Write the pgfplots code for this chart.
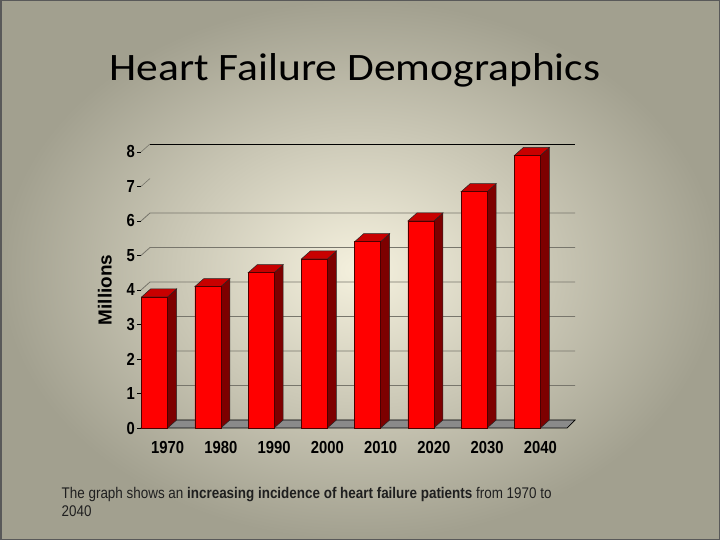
\documentclass[border=0pt]{standalone}
\usepackage{fontspec}
\setmainfont{Liberation Sans}
\newfontfamily\titlefont[FakeStretch=1.12]{Carlito}
\newfontfamily\tickfont[FakeStretch=0.85]{Liberation Sans}
\newfontfamily\capfont[FakeStretch=0.87]{Liberation Sans}
\usepackage{pgfplots}
\usepackage{pgfplotstable}
\pgfplotsset{compat=1.18}
\definecolor{bgin}{RGB}{245,241,222}
\definecolor{bgout}{RGB}{162,160,143}
\definecolor{front}{RGB}{255,0,0}
\definecolor{side}{RGB}{125,0,0}
\definecolor{topred}{RGB}{200,0,0}
\definecolor{floor}{RGB}{138,138,138}
\definecolor{gridc}{RGB}{120,118,108}

% values in millions, 1970..2040
\pgfplotstableread{
x y
0 3.8
1 4.1
2 4.5
3 4.9
4 5.4
5 6.0
6 6.85
7 7.9
}\hfdata

\begin{document}
\begin{tikzpicture}
\shade[inner color=bgin, outer color=bgout] (0,0) rectangle (720bp,540bp);
\draw[black!65, line width=1.5bp] (0.75bp,0.75bp) rectangle (719.25bp,539.25bp);
\path[use as bounding box] (0,0) rectangle (720bp,540bp);

\node[font=\titlefont\fontsize{39}{39}\selectfont, anchor=base] at (355bp,459bp) {Heart Failure Demographics};

\node[anchor=base west, align=left, text=black!88, font=\capfont\fontsize{15.5}{18.4}\selectfont, inner sep=0pt]
  at (61.5bp,23.3bp) {The graph shows an \textbf{increasing incidence of heart failure patients} from 1970 to\\2040};

\begin{axis}[
    at={(141bp,112bp)}, anchor=south west,
    x=53.25bp, y=34.5bp,
    xmin=-0.5, xmax=7.5, ymin=0, ymax=8,
    clip=false,
    axis line style={draw=none},
    xtick=data,
    xticklabels={1970,1980,1990,2000,2010,2020,2030,2040},
    xtick style={draw=none},
    ytick={0,...,8},
    ytick pos=left,
    tick align=outside,
    major tick length=4bp,
    ytick style={black, line width=0.6bp},
    /pgf/number format/assume math mode=true,
    tick label style={font=\tickfont\bfseries\fontsize{17.5}{17.5}\selectfont},
    xticklabel style={yshift=-6bp},
    yticklabel style={xshift=1.5bp},
    ylabel={Millions},
    ylabel shift=8bp,
    ylabel style={font=\bfseries\fontsize{19}{19}\selectfont},
]
% back wall grid
\pgfplotsinvokeforeach{1,2,3,4,5,6}{
  \draw[gridc, line width=0.8bp] (axis cs:-0.5,#1) -- ++(9bp,8bp) -- ([shift={(8bp,8bp)}]axis cs:7.5,#1);
}
\draw[gridc, line width=0.6bp] (axis cs:-0.5,7) -- ++(9bp,8bp);
\draw[gridc, line width=0.6bp] (axis cs:-0.5,8) -- ++(9bp,8bp);
\draw[black, line width=0.9bp] ([shift={(9bp,8bp)}]axis cs:-0.5,8) -- ([shift={(8bp,8bp)}]axis cs:7.5,8);
% floor
\filldraw[fill=floor, draw=black, line width=0.7bp] (axis cs:-0.5,0) -- ++(9bp,8bp)
  -- ([shift={(8bp,8bp)}]axis cs:7.5,0) -- (axis cs:7.5,0) -- cycle;

% side and top faces, taken from the same table rows
\pgfplotsinvokeforeach{0,...,7}{
  \pgfplotstablegetelem{#1}{y}\of\hfdata
  \edef\facecmd{%
    \noexpand\filldraw[fill=side, draw=black!85, line width=0.5bp]
      (axis cs:#1,\pgfplotsretval) -- ++(9bp,8bp) -- ([shift={(9bp,8bp)}]axis cs:#1,0) -- (axis cs:#1,0) -- cycle;
    \noexpand\filldraw[fill=topred, draw=black!85, line width=0.5bp]
      (axis cs:#1,\pgfplotsretval) -- ([xshift=-26bp]axis cs:#1,\pgfplotsretval) -- ++(9bp,8bp)
      -- ([shift={(9bp,8bp)}]axis cs:#1,\pgfplotsretval) -- cycle;
  }\facecmd
}

% front faces
\addplot[ybar, bar width=26bp, bar shift=-13bp, fill=front, draw=black!70!red, line width=0.5bp]
  table[x=x, y=y] {\hfdata};
\end{axis}
\end{tikzpicture}
\end{document}
